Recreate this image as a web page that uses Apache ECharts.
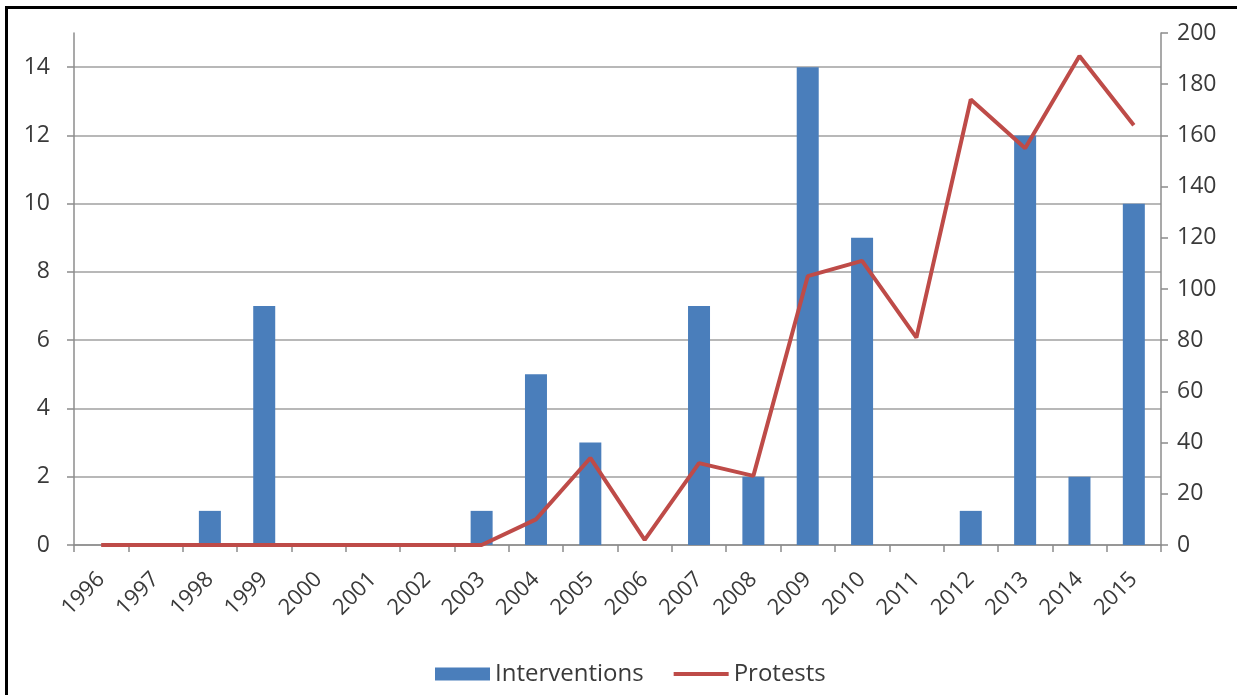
<!DOCTYPE html>
<html>
<head>
<meta charset="utf-8">
<script src="https://cdn.jsdelivr.net/npm/echarts@6/dist/echarts.min.js"></script>
<style>
html,body{margin:0;padding:0;background:#fff;}
#frame{position:absolute;left:5px;top:6px;width:1300px;height:800px;border-left:3px solid #000;border-top:3px solid #000;box-sizing:border-box;}
#chart{position:absolute;left:0;top:0;width:1237px;height:695px;}
</style>
</head>
<body>
<div id="chart"></div>
<div id="frame"></div>
<script>
const years = ['1996','1997','1998','1999','2000','2001','2002','2003','2004','2005','2006','2007','2008','2009','2010','2011','2012','2013','2014','2015'];
const interventions = [0,0,1,7,0,0,0,1,5,3,0,7,2,14,9,0,1,12,2,10];
const protests = [0,0,0,0,0,0,0,0,10,34,2,32,27,105,111,81,174,155,191,164];
const leftTicks = [0,2,4,6,8,10,12,14];

const chart = echarts.init(document.getElementById('chart'));
const labelColor = '#3a3a3a';
const font = 'Open Sans';
chart.setOption({
  animation:false,
  backgroundColor:'#fff',
  grid:{left:74,right:76,top:33,bottom:150,containLabel:false},
  legend:{
    top:657,left:430,
    itemWidth:55,itemHeight:13,itemGap:30,
    textStyle:{fontFamily:font,fontSize:24,color:labelColor},
    data:[{name:'Interventions',icon:'rect'},{name:'Protests',icon:'path://M0,0L55,0L55,4L0,4Z'}]
  },
  xAxis:{
    type:'category',data:years,boundaryGap:true,
    axisLine:{lineStyle:{color:'#8c8c8c',width:1.5}},
    axisTick:{show:true,length:7,lineStyle:{color:'#8c8c8c',width:1.5}},
    axisLabel:{rotate:45,fontFamily:font,fontSize:22,color:labelColor,margin:31}
  },
  yAxis:[{
    type:'value',min:0,max:15,interval:2,
    axisLine:{show:true,lineStyle:{color:'#8c8c8c',width:1.5}},
    axisTick:{show:true,length:7,customValues:leftTicks,lineStyle:{color:'#8c8c8c',width:1.5}},
    axisLabel:{fontFamily:font,fontSize:23,color:labelColor,margin:24,customValues:leftTicks},
    splitLine:{show:true,lineStyle:{color:'#a0a0a0',width:1.5}}
  },{
    type:'value',min:0,max:200,interval:20,position:'right',
    axisLine:{show:true,lineStyle:{color:'#8c8c8c',width:1.5}},
    axisTick:{show:true,length:7,lineStyle:{color:'#8c8c8c',width:1.5}},
    axisLabel:{fontFamily:font,fontSize:23,color:labelColor,margin:16},
    splitLine:{show:false}
  }],
  series:[{
    name:'Interventions',type:'bar',yAxisIndex:0,data:interventions,
    barWidth:22,itemStyle:{color:'#4a7ebb'}
  },{
    name:'Protests',type:'line',yAxisIndex:1,data:protests,
    symbol:'none',lineStyle:{color:'#be4b48',width:4},itemStyle:{color:'#be4b48'}
  }]
});
</script>
</body>
</html>
